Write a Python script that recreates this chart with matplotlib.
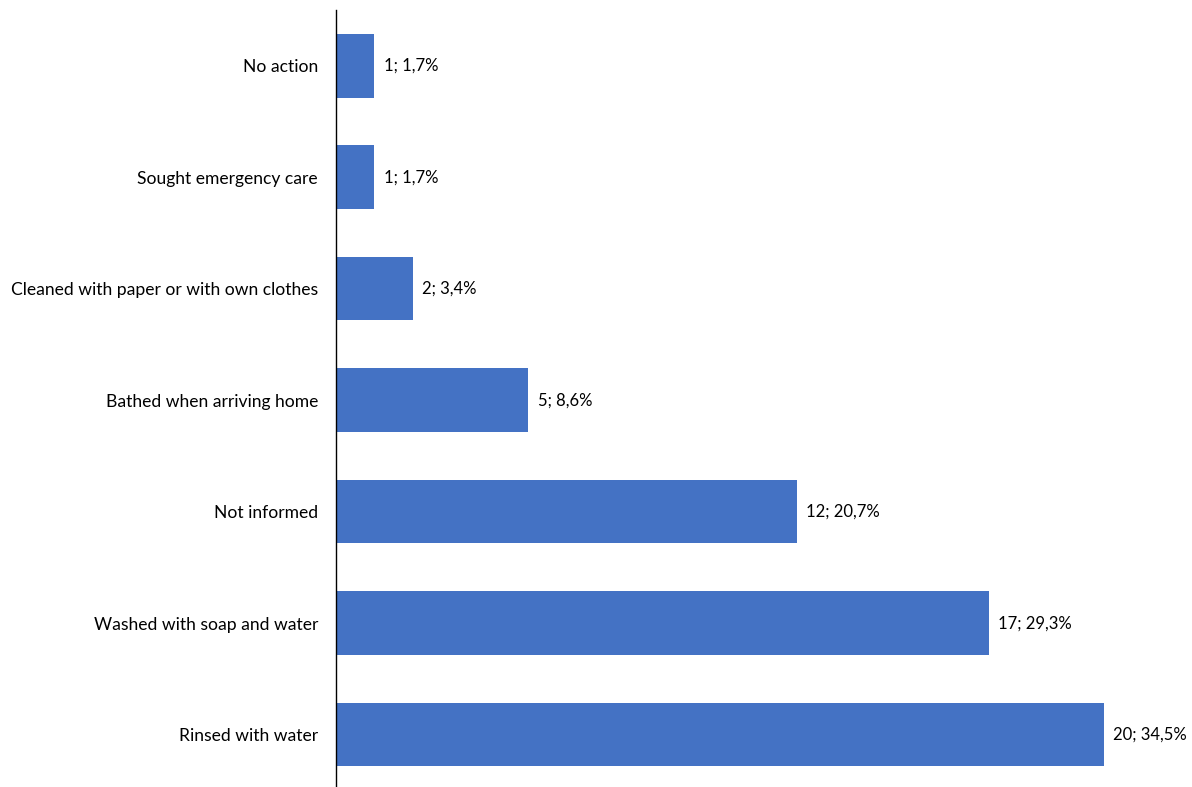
import matplotlib.pyplot as plt

categories = [
    "Rinsed with water",
    "Washed with soap and water",
    "Not informed",
    "Bathed when arriving home",
    "Cleaned with paper or with own clothes",
    "Sought emergency care",
    "No action",
]
counts = [20, 17, 12, 5, 2, 1, 1]
percents = [34.5, 29.3, 20.7, 8.6, 3.4, 1.7, 1.7]


def main() -> None:
    plt.rcParams["font.family"] = ["Lato", "DejaVu Sans"]
    fig = plt.figure(figsize=(11.92, 7.87), dpi=100)
    ax = fig.add_axes([336 / 1192, 0.0, 1 - 336 / 1192, 1 - 10 / 787])

    pos = range(len(categories))
    ax.barh(pos, counts, height=0.57, color="#4472C4")

    for y, c, p in zip(pos, counts, percents):
        label = f"{c}; {p:.1f}%".replace(".", ",")
        ax.text(c + 0.25, y, label, va="center", ha="left", fontsize=12)

    ax.set_yticks(list(pos))
    ax.set_yticklabels(categories, fontsize=12.6)
    ax.tick_params(axis="y", length=0, pad=13)
    ax.set_xticks([])
    ax.set_xlim(0, 22.3)
    ax.set_ylim(-0.47, 6.5)

    for side in ["top", "right", "bottom"]:
        ax.spines[side].set_visible(False)
    ax.spines["left"].set_linewidth(1.0)

    fig.savefig("out.png", dpi=100)


if __name__ == "__main__":
    main()
